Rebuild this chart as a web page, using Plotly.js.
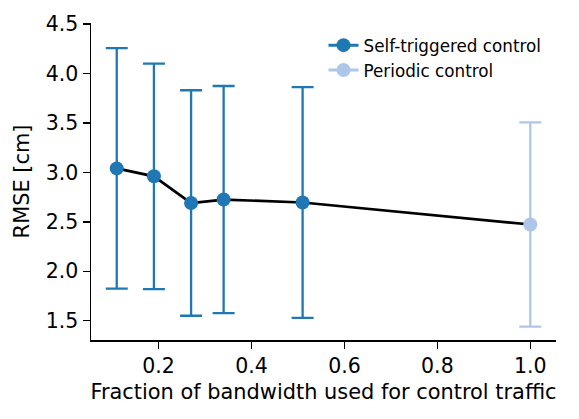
<!DOCTYPE html>
<html>
<head>
<meta charset="utf-8">
<script src="https://cdn.plot.ly/plotly-3.0.1.min.js"></script>
<style>html,body{margin:0;padding:0;background:#fff;}#chart{width:579px;height:419px;}</style>
</head>
<body>
<div id="chart"></div>
<script>
// Self-triggered control
const stX = [0.11, 0.19, 0.27, 0.34, 0.51];
const stY = [3.04, 2.96, 2.69, 2.725, 2.695];
const stErr = [1.215, 1.14, 1.14, 1.148, 1.166];
// Periodic control
const pcX = [1.0];
const pcY = [2.473];
const pcErr = [1.032];

const seriesNames = ['Self-triggered control', 'Periodic control'];
const colST = '#1f77b4';
const colPC = '#aec7e8';
const FONT = 'DejaVu Sans, sans-serif';

const traces = [
  {
    x: stX.concat(pcX), y: stY.concat(pcY), mode: 'lines',
    line: {color: '#000000', width: 2.7}, showlegend: false, hoverinfo: 'skip'
  },
  {
    x: stX, y: stY, mode: 'markers', name: seriesNames[0], showlegend: false,
    marker: {color: colST, size: 14},
    error_y: {type: 'data', array: stErr, visible: true, color: colST, thickness: 2.3, width: 11}
  },
  {
    x: pcX, y: pcY, mode: 'markers', name: seriesNames[1], showlegend: false,
    marker: {color: colPC, size: 14},
    error_y: {type: 'data', array: pcErr, visible: true, color: colPC, thickness: 2.3, width: 11}
  },
  {
    x: [null], y: [null], mode: 'lines+markers', name: seriesNames[0],
    line: {color: colST, width: 3}, marker: {color: colST, size: 14}
  },
  {
    x: [null], y: [null], mode: 'lines+markers', name: seriesNames[1],
    line: {color: colPC, width: 3}, marker: {color: colPC, size: 14}
  }
];

const layout = {
  width: 579, height: 419,
  margin: {l: 91, r: 23, t: 23, b: 79},
  paper_bgcolor: '#ffffff', plot_bgcolor: '#ffffff',
  font: {family: FONT, size: 20.9, color: '#000000'},
  showlegend: true,
  legend: {
    x: 0.5, y: 0.985, xanchor: 'left', yanchor: 'top',
    font: {family: FONT, size: 16.8, color: '#000000'},
    bgcolor: 'rgba(0,0,0,0)', borderwidth: 0
  },
  xaxis: {
    range: [0.0546, 1.0553], tick0: 0, dtick: 0.2, tickformat: '.1f',
    showgrid: false, zeroline: false, showline: true, linecolor: '#000000', linewidth: 1.5,
    ticks: 'outside', ticklen: 7, tickwidth: 1.5, tickcolor: '#000000',
    tickfont: {family: FONT, size: 20.5},
    title: {text: 'Fraction of bandwidth used for control traffic', font: {family: FONT, size: 20.9}, standoff: 7}
  },
  yaxis: {
    range: [1.305, 4.51], tick0: 0, dtick: 0.5, tickformat: '.1f',
    showgrid: false, zeroline: false, showline: true, linecolor: '#000000', linewidth: 1.5,
    ticks: 'outside', ticklen: 7, tickwidth: 1.5, tickcolor: '#000000',
    tickfont: {family: FONT, size: 20.5},
    title: {text: 'RMSE [cm]', font: {family: FONT, size: 20.9}, standoff: 10}
  }
};

Plotly.newPlot('chart', traces, layout, {displayModeBar: false, staticPlot: true});
</script>
</body>
</html>
